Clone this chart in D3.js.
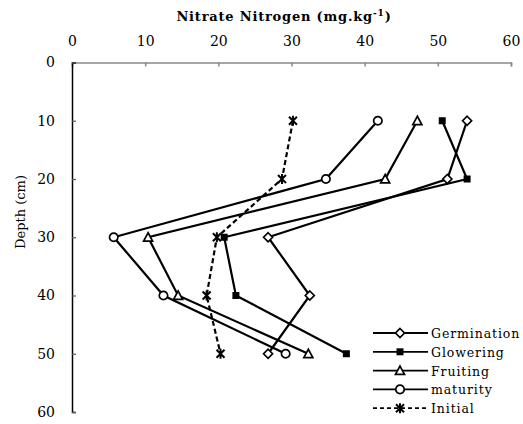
<!DOCTYPE html>
<html>
<head>
<meta charset="utf-8">
<script src="https://cdn.jsdelivr.net/npm/d3@7"></script>
<style>
  body { margin: 0; background: #fff; }
  text { font-family: "DejaVu Serif", serif; fill: #000; }
</style>
</head>
<body>
<div id="chart"></div>
<script>
// depth levels (cm) and nitrate nitrogen values (mg/kg)
const depths = [10, 20, 30, 40, 50];
const germination = [54.0, 51.3, 26.8, 32.5, 26.8];
const glowering = [50.6, 54.0, 20.8, 22.4, 37.5];
const fruiting = [47.2, 42.8, 10.4, 14.5, 32.3];
const maturity = [41.8, 34.7, 5.7, 12.5, 29.2];
const initial = [30.2, 28.7, 19.8, 18.4, 20.3];

const xTicks = [0, 10, 20, 30, 40, 50, 60];
const yTicks = [0, 10, 20, 30, 40, 50, 60];

const series = [
  { name: "Germination", values: germination, marker: "diamond", dash: null },
  { name: "Glowering", values: glowering, marker: "square", dash: null },
  { name: "Fruiting", values: fruiting, marker: "triangle", dash: null },
  { name: "maturity", values: maturity, marker: "circle", dash: null },
  { name: "Initial", values: initial, marker: "star", dash: "5,3" }
];

const width = 523, height = 424;
const svg = d3.select("#chart").append("svg")
  .attr("width", width).attr("height", height);

const x = d3.scaleLinear().domain([0, 60]).range([72, 511]);
const y = d3.scaleLinear().domain([0, 60]).range([62.5, 412]);

// top axis (grey line, ticks pointing in)
const topAxis = svg.append("g").attr("transform", `translate(0,${y(0)})`)
  .call(d3.axisTop(x).tickValues(xTicks).tickSize(-4).tickPadding(17));
topAxis.select(".domain").attr("stroke", "#888").attr("stroke-width", 1.5);
topAxis.selectAll(".tick line").attr("stroke", "#888").attr("stroke-width", 1.5);
topAxis.selectAll("text").attr("font-size", 14).attr("fill", "#000");

// left axis (black line, ticks pointing in)
const leftAxis = svg.append("g").attr("transform", `translate(${x(0)},0)`)
  .call(d3.axisLeft(y).tickValues(yTicks).tickSize(-4).tickPadding(17));
leftAxis.select(".domain").attr("stroke", "#000").attr("stroke-width", 1.5);
leftAxis.selectAll(".tick line").attr("stroke", "#555").attr("stroke-width", 1.2);
leftAxis.selectAll("text").attr("font-size", 14).attr("fill", "#000");

svg.append("text")
  .attr("x", 284).attr("y", 21)
  .attr("text-anchor", "middle")
  .attr("font-size", 13).attr("font-weight", "bold")
  .attr("letter-spacing", 0.8)
  .html('Nitrate Nitrogen (mg.kg<tspan dy="-5" font-size="9">-1</tspan><tspan dy="5">)</tspan>');

svg.append("text")
  .attr("transform", "translate(25,212) rotate(-90)")
  .attr("text-anchor", "middle")
  .attr("font-size", 13)
  .text("Depth (cm)");

function drawMarker(g, type) {
  const sw = 1.7;
  if (type === "diamond") {
    g.append("path").attr("d", "M0,-4.5L4.5,0L0,4.5L-4.5,0Z")
      .attr("fill", "#fff").attr("stroke", "#000").attr("stroke-width", sw);
  } else if (type === "square") {
    g.append("rect").attr("x", -3.5).attr("y", -3.5).attr("width", 7).attr("height", 7)
      .attr("fill", "#000");
  } else if (type === "triangle") {
    g.append("path").attr("d", "M0,-4.5L4.5,3.8L-4.5,3.8Z")
      .attr("fill", "#fff").attr("stroke", "#000").attr("stroke-width", sw);
  } else if (type === "circle") {
    g.append("circle").attr("r", 4.2)
      .attr("fill", "#fff").attr("stroke", "#000").attr("stroke-width", sw);
  } else if (type === "star") {
    g.append("path").attr("d", "M-4,-4L4,4M4,-4L-4,4M0,-5L0,5")
      .attr("fill", "none").attr("stroke", "#000").attr("stroke-width", 2);
  }
}

const line = d3.line().x(d => x(d[1])).y(d => y(d[0]));

series.forEach(s => {
  const pts = depths.map((d, i) => [d, s.values[i]]);
  svg.append("path").datum(pts)
    .attr("d", line)
    .attr("fill", "none").attr("stroke", "#000").attr("stroke-width", 2.2)
    .attr("stroke-dasharray", s.dash);
});

series.forEach(s => {
  depths.forEach((d, i) => {
    const g = svg.append("g").attr("transform", `translate(${x(s.values[i])},${y(d)})`);
    drawMarker(g, s.marker);
  });
});

// legend
const legend = svg.append("g");
series.forEach((s, i) => {
  const ly = 333 + i * 18.8;
  legend.append("line")
    .attr("x1", 373).attr("x2", 428).attr("y1", ly).attr("y2", ly)
    .attr("stroke", "#000").attr("stroke-width", 1.8)
    .attr("stroke-dasharray", s.dash ? "4,3" : null);
  const g = legend.append("g").attr("transform", `translate(400,${ly})`);
  drawMarker(g, s.marker);
  legend.append("text")
    .attr("x", 431).attr("y", ly + 5)
    .attr("font-size", 12.5)
    .attr("letter-spacing", 0.9)
    .text(s.name);
});
</script>
</body>
</html>
